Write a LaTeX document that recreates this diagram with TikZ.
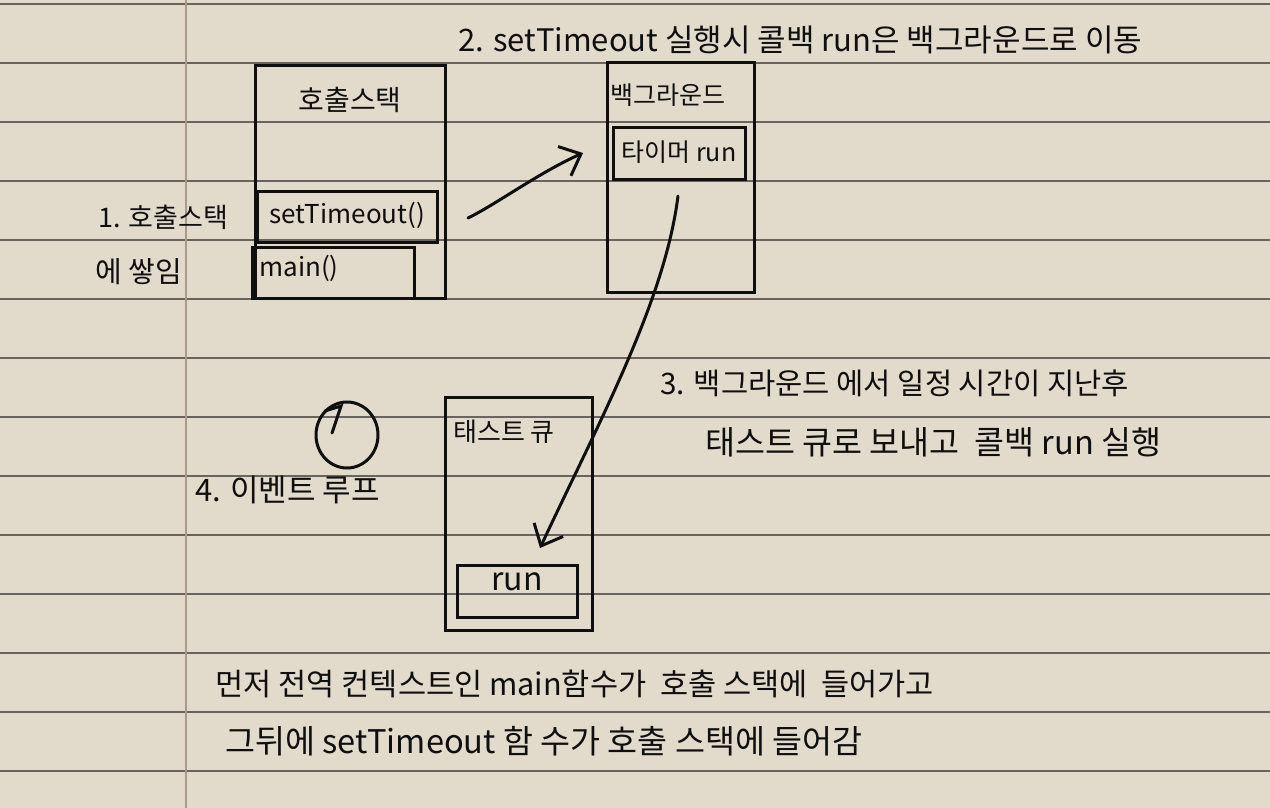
\documentclass[tikz,border=0pt]{standalone}
\usepackage{fontspec}
\setmainfont{Noto Sans CJK KR}
\usetikzlibrary{arrows.meta}
\definecolor{paper}{RGB}{226,219,204}
\definecolor{rule}{RGB}{105,100,94}
\definecolor{margin}{RGB}{172,152,138}
\definecolor{ink}{RGB}{15,15,15}
\tikzset{
  boxed/.style={draw=ink, line width=1.5pt, inner sep=0pt},
  lbl/.style={text=ink, inner sep=0pt, font=\fontsize{14}{16}\selectfont},
  arr/.style={draw=ink, line width=1.5pt, line cap=round, -{Straight Barb[length=9pt,width=16pt,line width=1.5pt]}}
}
\newcommand{\fsz}[1]{\fontsize{#1}{#1}\selectfont}
\begin{document}
\begin{tikzpicture}[x=0.5pt,y=-0.5pt]
\useasboundingbox (0,0) rectangle (1270,808);
\fill[paper] (0,0) rectangle (1270,808);
\foreach \y in {4,63,122,181,240,299,358,417,476,535,594,653,712,771}
  \draw[rule, line width=0.6pt] (0,\y) -- (1270,\y);
\draw[margin, line width=1.1pt] (186,0) -- (186,808);

% call stack
\node[boxed, minimum width=95pt, minimum height=116pt] (cs) at (350,182) {};
\node[lbl] (cst) at (350,100) {호출스택};
\node[boxed, minimum width=90pt, minimum height=25pt] (st) at (347,217) {};
\node[lbl, font=\fsz{13}] (stt) at (347,215) {setTimeout()};
\node[boxed, minimum width=81pt, minimum height=25.5pt] (mn) at (333,272.5) {};
\node[lbl, font=\fsz{13}, anchor=west] (mnt) at (259,268) {main()};
\node[lbl, font=\fsz{13.5}, anchor=west] (l1a) at (98,217) {1. 호출스택};
\node[lbl, font=\fsz{14.5}, anchor=west] (l1b) at (95,272) {에 쌓임};

% background
\node[boxed, minimum width=73.5pt, minimum height=114.5pt] (bg) at (680.5,177.5) {};
\node[lbl, font=\fsz{12.5}] (bgt) at (668,95) {백그라운드};
\node[boxed, minimum width=66pt, minimum height=26pt] (tm) at (679,154) {};
\node[lbl, font=\fsz{12.5}] (tmt) at (679,152) {타이머 run};

% top label
\node[lbl, font=\fsz{15.5}, anchor=west] (l2) at (458,40) {2. setTimeout 실행시 콜백 run은 백그라운드로 이동};

% arrow 1
\coordinate (a1s) at (468,218);
\coordinate (a1e) at (583,153);
\draw[arr] (a1s) .. controls (495,205) and (540,172) .. (a1e);

% task queue
\node[boxed, minimum width=73.5pt, minimum height=116.5pt] (tq) at (518.5,513.5) {};
\node[lbl, font=\fsz{13}] (tqt) at (504,432) {태스트 큐};
\node[boxed, minimum width=60pt, minimum height=26pt] (rn) at (517,591) {};
\node[lbl, font=\fsz{16}] (rnt) at (517,582) {run};

% arrow 2
\coordinate (a2s) at (678,196);
\coordinate (a2e) at (540,548);
\draw[arr] (a2s) .. controls (665,300) and (600,420) .. (a2e);

% label 3
\node[lbl, font=\fsz{14.8}, anchor=west] (l3a) at (660,383) {3. 백그라운드 에서 일정 시간이 지난후};
\node[lbl, font=\fsz{16.3}, anchor=west] (l3b) at (705,442) {태스트 큐로 보내고 \ 콜백 run 실행};

% event loop
\draw[ink, line width=1.5pt] (347,435) ellipse [x radius=31, y radius=33];
\draw[ink, line width=1.5pt, line cap=round] (325,411) -- (341,406) -- (332,433);
\node[lbl, font=\fsz{15.5}, anchor=west] (l4) at (195,490) {4. 이벤트 루프};

% bottom text
\node[lbl, font=\fsz{15.3}, anchor=west] (b1) at (215,684) {먼저 전역 컨텍스트인 main함수가 \ 호출 스택에 \ 들어가고};
\node[lbl, font=\fsz{16.3}, anchor=west] (b2) at (225,741) {그뒤에 setTimeout 함 수가 호출 스택에 들어감};
\end{tikzpicture}
\end{document}
